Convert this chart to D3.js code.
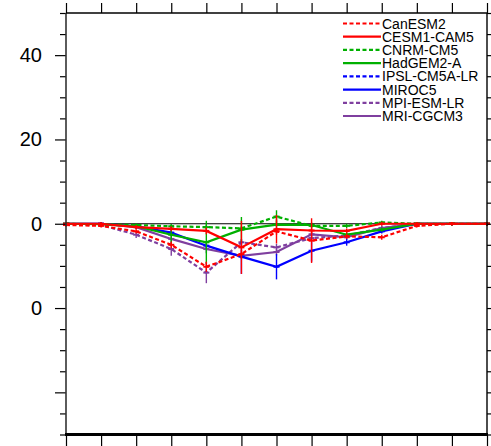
<!DOCTYPE html>
<html>
<head>
<meta charset="utf-8">
<script src="https://cdn.jsdelivr.net/npm/d3@7"></script>
<style>
  html, body { margin: 0; padding: 0; background: #fff; }
  svg { display: block; font-family: "Liberation Sans", Arial, Helvetica, sans-serif; }
</style>
</head>
<body>
<svg id="chart" width="491" height="446"></svg>
<script>
// Step index along the x axis (13 points)
const steps = [0, 1, 2, 3, 4, 5, 6, 7, 8, 9, 10, 11, 12];

// Model names, in legend order
const models = ["CanESM2", "CESM1-CAM5", "CNRM-CM5", "HadGEM2-A",
                "IPSL-CM5A-LR", "MIROC5", "MPI-ESM-LR", "MRI-CGCM3"];

// Mean values per model
const canesm2  = [-0.3, -0.5, -1.8, -5.0, -10.2, -7.2, -1.8, -4.0, -3.0, -3.2, -0.5, 0, 0];
const cesm1    = [0, 0, -0.8, -1.2, -1.7, -5.6, -1.3, -1.6, -1.7, 0, 0, 0, 0];
const cnrm     = [0, -0.2, -0.3, -0.6, -0.8, -1.1, 1.7, -0.5, -0.5, 0.3, 0, 0, 0];
const hadgem2a = [0, -0.1, -0.6, -2.6, -4.4, -1.4, -0.2, -0.3, -2.6, -1.4, 0, 0, 0];
const ipsl     = [null, null, null, null, null, null, null, null, null, null, null, null, null];
const miroc5   = [0, 0, -0.6, -2.1, -5.2, -7.8, -10.2, -6.4, -4.4, -1.8, 0, 0, 0];
const mpi      = [0, -0.3, -2.6, -6.0, -11.6, -4.4, -5.6, -3.4, -2.8, -1.0, 0, 0, 0];
const mri      = [0, 0, -0.8, -3.6, -6.0, -7.6, -6.7, -2.5, -3.2, -1.0, 0, 0, 0];

// Half-widths of the spread bars per model
const canesm2Err  = [0.4, 0.4, 0.5, 0.8, 1.2, 1.0, 0.8, 5.3, 0.6, 0.6, 0.4, 0.4, 0.4];
const cesm1Err    = [0.4, 0.4, 0.5, 0.6, 0.8, 6.3, 3.4, 0.6, 0.6, 0.5, 0.4, 0.4, 0.4];
const cnrmErr     = [0.4, 0.4, 0.4, 0.5, 0.6, 0.6, 1.5, 0.5, 0.5, 0.4, 0.4, 0.4, 0.4];
const hadgem2aErr = [0.4, 0.4, 0.5, 2.5, 5.1, 3.0, 1.0, 0.6, 0.6, 0.5, 0.4, 0.4, 0.4];
const ipslErr     = [null, null, null, null, null, null, null, null, null, null, null, null, null];
const miroc5Err   = [0.4, 0.4, 0.5, 0.6, 0.8, 4.1, 3.0, 2.6, 0.8, 0.5, 0.4, 0.4, 0.4];
const mpiErr      = [0.4, 0.4, 0.8, 1.6, 2.5, 0.8, 0.8, 0.6, 0.6, 0.5, 0.4, 0.4, 0.4];
const mriErr      = [0.4, 0.4, 0.5, 0.8, 1.0, 0.8, 0.8, 0.6, 0.6, 0.5, 0.4, 0.4, 0.4];

const colors = ["#ff0000", "#ff0000", "#00b000", "#00b000",
                "#0000ff", "#0000ff", "#7f3f9f", "#7f3f9f"];
const dashed = [true, false, true, false, true, false, true, false];

// Y axis ticks and their labels
const yMajor = [-40, -20, 0, 20, 40];
const yMajorLabels = ["", "0", "0", "20", "40"];
const yMinor = [-50, -45, -35, -30, -25, -15, -10, -5, 5, 10, 15, 25, 30, 35, 45, 50];

const values = [canesm2, cesm1, cnrm, hadgem2a, ipsl, miroc5, mpi, mri];
const errors = [canesm2Err, cesm1Err, cnrmErr, hadgem2aErr, ipslErr, miroc5Err, mpiErr, mriErr];

const series = models.map((name, i) => ({
  name, color: colors[i], dashed: dashed[i],
  points: steps.map((s, j) => ({ s, v: values[i][j], e: errors[i][j] }))
}));

const svg = d3.select("#chart");
const L = 66, R = 487, T = 13, B = 434.5;

const x = d3.scaleLinear().domain([0, 12]).range([L, R]);
const y = d3.scaleLinear().domain([-50, 50]).range([B, T]);

// Zero reference line
svg.append("line")
  .attr("x1", L).attr("x2", R)
  .attr("y1", y(0)).attr("y2", y(0))
  .attr("stroke", "#000").attr("stroke-width", 1);

// Series lines, spread bars and point marks (last model drawn first)
const line = d3.line()
  .defined(d => d.v !== null)
  .x(d => x(d.s)).y(d => y(d.v));

series.slice().reverse().forEach(sr => {
  const g = svg.append("g");
  const pts = sr.points.filter(p => p.v !== null);
  g.append("path")
    .datum(sr.points)
    .attr("fill", "none")
    .attr("stroke", sr.color)
    .attr("stroke-width", 2.2)
    .attr("stroke-dasharray", sr.dashed ? "4,2.5" : null)
    .attr("d", line);
  g.selectAll("line.bar").data(pts).join("line")
    .attr("class", "bar")
    .attr("x1", d => x(d.s)).attr("x2", d => x(d.s))
    .attr("y1", d => y(d.v - d.e)).attr("y2", d => y(d.v + d.e))
    .attr("stroke", sr.color).attr("stroke-width", 1.4);
  g.selectAll("line.tick").data(pts).join("line")
    .attr("class", "tick")
    .attr("x1", d => x(d.s) - 3).attr("x2", d => x(d.s) + 3)
    .attr("y1", d => y(d.v)).attr("y2", d => y(d.v))
    .attr("stroke", sr.color).attr("stroke-width", 2);
});

// Frame and axes
function styleAxis(g) {
  g.select(".domain").remove();
  g.selectAll(".tick line").attr("stroke", "#000").attr("stroke-width", 1.2);
}

svg.append("g").attr("transform", `translate(${L},0)`)
  .call(d3.axisLeft(y).tickValues(yMajor).tickSize(11)
    .tickFormat((d, i) => yMajorLabels[i]).tickPadding(13))
  .call(styleAxis)
  .call(g => g.selectAll("text").attr("font-size", 20).attr("fill", "#000")
    .attr("font-family", "'Liberation Sans', Arial, sans-serif"));
svg.append("g").attr("transform", `translate(${L},0)`)
  .call(d3.axisLeft(y).tickValues(yMinor).tickSize(6).tickFormat(""))
  .call(styleAxis);

svg.append("g").attr("transform", `translate(${R},0)`)
  .call(d3.axisRight(y).tickValues(yMajor.concat(yMinor)).tickSize(5).tickFormat(""))
  .call(styleAxis);

svg.append("g").attr("transform", `translate(0,${T})`)
  .call(d3.axisTop(x).tickValues(steps).tickSize(10).tickFormat(""))
  .call(styleAxis);
svg.append("g").attr("transform", `translate(0,${B})`)
  .call(d3.axisBottom(x).tickValues(steps).tickSize(12).tickFormat(""))
  .call(styleAxis);

svg.append("line").attr("x1", L).attr("x2", L).attr("y1", T).attr("y2", B)
  .attr("stroke", "#333").attr("stroke-width", 1.6);
svg.append("line").attr("x1", R).attr("x2", R).attr("y1", T).attr("y2", B)
  .attr("stroke", "#000").attr("stroke-width", 1.4);
svg.append("line").attr("x1", L).attr("x2", R).attr("y1", T).attr("y2", T)
  .attr("stroke", "#000").attr("stroke-width", 1.6);
svg.append("line").attr("x1", L - 1).attr("x2", R + 1).attr("y1", B).attr("y2", B)
  .attr("stroke", "#000").attr("stroke-width", 3);

// Legend
const legend = svg.append("g");
const legY = d3.scalePoint().domain(models).range([23.5, 116]);
series.forEach(sr => {
  const cy = legY(sr.name);
  legend.append("line")
    .attr("x1", 343).attr("x2", 381).attr("y1", cy).attr("y2", cy)
    .attr("stroke", sr.color).attr("stroke-width", 2.2)
    .attr("stroke-dasharray", sr.dashed ? "4,2.5" : null);
  legend.append("text")
    .attr("x", 382).attr("y", cy + 5)
    .attr("font-size", 14).attr("fill", "#000")
    .text(sr.name);
});
</script>
</body>
</html>
